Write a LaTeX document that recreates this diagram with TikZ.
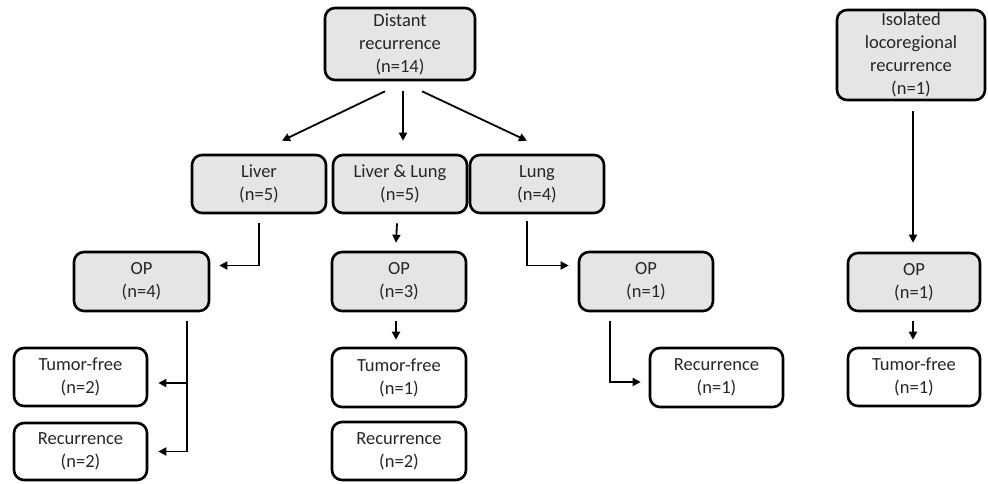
\documentclass[tikz,border=0pt]{standalone}
\usepackage{fontspec}
\setmainfont{Carlito}
\usetikzlibrary{arrows.meta}

\begin{document}
\begin{tikzpicture}[x=1pt, y=-1pt,
    box/.style={draw, line width=2.6pt, rounded corners=10pt, align=center,
        inner sep=0pt, text=black!85,
        font=\fontsize{18.5}{23}\selectfont},
    shaded/.style={box, fill=black!10},
    arr/.style={line width=1.8pt, -{Triangle[length=8pt,width=8pt]}}]

    % 1. Fix the page size
    \useasboundingbox (0,0) rectangle (988,483);

    % 2. Place the boxes
    \node[shaded, minimum width=150pt, minimum height=72pt] (dist) at (400,44) {Distant\\recurrence\\(n=14)};
    \node[shaded, minimum width=148pt, minimum height=90pt] (iso) at (911,55) {Isolated\\locoregional\\recurrence\\(n=1)};

    \node[shaded, minimum width=134pt, minimum height=58pt] (liver) at (259,184) {Liver\\(n=5)};
    \node[shaded, minimum width=134pt, minimum height=58pt] (livlung) at (400,184) {Liver \& Lung\\(n=5)};
    \node[shaded, minimum width=134pt, minimum height=58pt] (lung) at (537,184) {Lung\\(n=4)};

    \node[shaded, minimum width=135pt, minimum height=59pt] (op4) at (141.5,281.5) {OP\\(n=4)};
    \node[shaded, minimum width=134pt, minimum height=59pt] (op3) at (399,281.5) {OP\\(n=3)};
    \node[shaded, minimum width=134pt, minimum height=59pt] (op1) at (646,281.5) {OP\\(n=1)};
    \node[shaded, minimum width=132pt, minimum height=58pt] (opr) at (914,282) {OP\\(n=1)};

    \node[box, minimum width=133pt, minimum height=58pt] (tf2) at (80.5,377) {Tumor-free\\(n=2)};
    \node[box, minimum width=133pt, minimum height=57pt] (rec2l) at (80.5,451.5) {Recurrence\\(n=2)};
    \node[box, minimum width=134pt, minimum height=59pt] (tf1) at (399,377.5) {Tumor-free\\(n=1)};
    \node[box, minimum width=134pt, minimum height=58pt] (rec2m) at (399,451) {Recurrence\\(n=2)};
    \node[box, minimum width=133pt, minimum height=59pt] (rec1) at (716.5,377.5) {Recurrence\\(n=1)};
    \node[box, minimum width=132pt, minimum height=58pt] (tfr) at (914,377) {Tumor-free\\(n=1)};

    % 3. Split of the distant recurrences
    \draw[arr] ([xshift=-15pt,yshift=-10pt]dist.south) -- ([xshift=23pt,yshift=13pt]liver.north);
    \draw[arr] ([xshift=3pt,yshift=-10pt]dist.south) -- ([xshift=3pt,yshift=13pt]livlung.north);
    \draw[arr] ([xshift=22pt,yshift=-10pt]dist.south) -- ([xshift=-10pt,yshift=13pt]lung.north);

    % 4. Sites to operations
    \draw[arr] ([yshift=-9pt]liver.south) |- ([xshift=9pt,yshift=16pt]op4.east);
    \draw[arr] ([xshift=-3pt,yshift=-9pt]livlung.south) -- ([xshift=-3pt,yshift=8pt]op3.north);
    \draw[arr] ([xshift=-10pt,yshift=-7pt]lung.south) |- ([xshift=-9pt,yshift=16pt]op1.west);
    \draw[arr] ([xshift=2pt,yshift=-10pt]iso.south) -- ([xshift=-1pt,yshift=9pt]opr.north);

    % 5. Outcomes after operation
    \coordinate (op4out) at ([xshift=45.5pt,yshift=-9pt]op4.south);
    \coordinate (tf2in) at ([xshift=10pt,yshift=-6pt]tf2.east);
    \draw[arr] (op4out) |- ([xshift=10pt]rec2l.east);
    \draw[arr] (op4out |- tf2in) -- (tf2in);
    \draw[arr] ([xshift=-3pt,yshift=-9pt]op3.south) -- ([xshift=-3pt,yshift=7pt]tf1.north);
    \draw[arr] ([xshift=-36pt,yshift=-9pt]op1.south) |- ([xshift=-8pt,yshift=-4.5pt]rec1.west);
    \draw[arr] ([xshift=-1pt,yshift=-9pt]opr.south) -- ([xshift=-1pt,yshift=7pt]tfr.north);

\end{tikzpicture}
\end{document}
